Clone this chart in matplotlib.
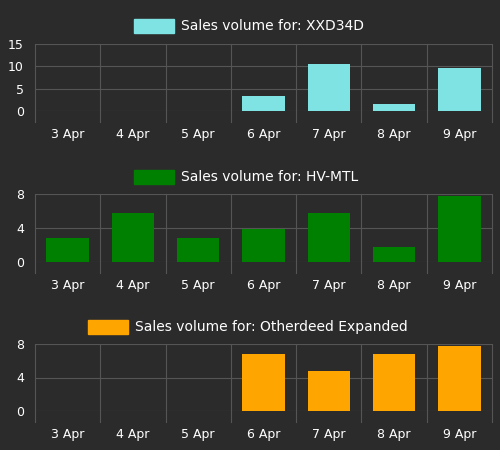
import matplotlib
matplotlib.use("Agg")
import matplotlib.pyplot as plt

days = ["3 Apr", "4 Apr", "5 Apr", "6 Apr", "7 Apr", "8 Apr", "9 Apr"]
xxd = [0, 0, 0, 3.4, 10.5, 1.6, 9.6]
hvm = [2.8, 5.8, 2.8, 3.9, 5.8, 1.8, 7.8]
oth = [0, 0, 0, 6.8, 4.8, 6.8, 7.8]
series = [
    ("Sales volume for: XXD34D", xxd, "#7fe3e3", [0, 5, 10, 15], 15),
    ("Sales volume for: HV-MTL", hvm, "#008000", [0, 4, 8], 8),
    ("Sales volume for: Otherdeed Expanded", oth, "#ffa500", [0, 4, 8], 8),
]
tops = [44, 194, 344]
bottoms = [111, 262, 411]
legy = [26, 177, 327]

bg = "#2b2b2b"
W, H = 500, 450
fig = plt.figure(figsize=(5, 4.5), dpi=100, facecolor=bg)
grid = "#555555"
for (label, vals, col, ticks, ymax), t, b, ly in zip(series, tops, bottoms, legy):
    ax = fig.add_axes([35 / W, 1 - b / H, 457 / W, (b - t) / H])
    ax.set_facecolor(bg)
    ax.bar(range(7), vals, width=0.65, color=col, zorder=3)
    ax.set_xlim(-0.5, 6.5)
    ax.set_ylim(0, ymax)
    ax.set_yticks(ticks)
    ax.set_xticks(range(7))
    ax.set_xticklabels(days)
    for s in ax.spines.values():
        s.set_visible(False)
    for yv in ticks:
        ax.axhline(yv, color=grid, lw=0.8, zorder=1)
    frac = 11 / (b - t)
    for xv in [i - 0.5 for i in range(8)]:
        ax.plot([xv, xv], [-frac * ymax, ymax], color=grid, lw=0.8, zorder=1, clip_on=False)
    ax.tick_params(axis="both", length=0, colors="white", labelsize=9)
    ax.tick_params(axis="x", pad=12)
    ax.tick_params(axis="y", pad=8)
    # legend
    txtw = len(label) * 7.7
    total = 47 + txtw
    x0 = (W - total) / 2
    fig.patches.append(plt.Rectangle((x0 / W, 1 - (ly + 7) / H), 40 / W, 14 / H,
                                     transform=fig.transFigure, color=col, figure=fig))
    fig.text((x0 + 47) / W, 1 - ly / H, label, color="white", fontsize=10, va="center", ha="left")

fig.savefig("out.png", dpi=100, facecolor=bg)
